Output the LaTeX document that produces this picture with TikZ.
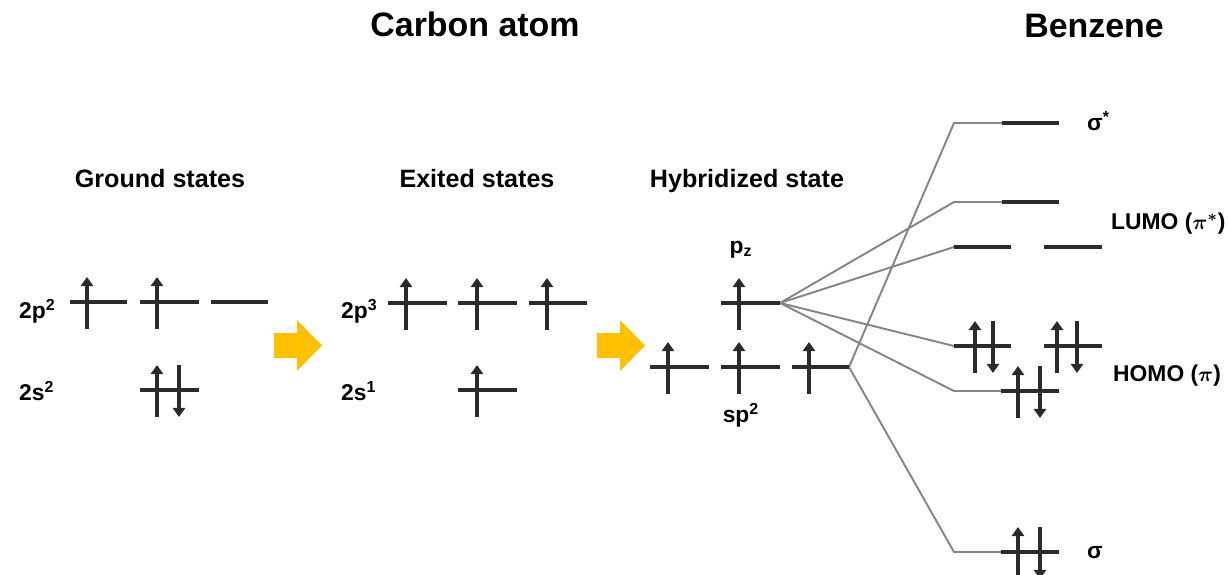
\documentclass[tikz,border=0pt]{standalone}
\usepackage{fontspec}
\setmainfont{Liberation Sans}
\usetikzlibrary{arrows.meta}

\definecolor{levelgray}{HTML}{2B2B2B}
\definecolor{linkgray}{HTML}{858585}
\definecolor{pushyellow}{HTML}{FFC000}

% one energy level: [style]{name}{x left}{x right}{y}
\newcommand{\orbital}[5][level]{%
  \coordinate (#2-l) at (#3,#5);
  \coordinate (#2-r) at (#4,#5);
  \draw[#1] (#2-l) -- (#2-r);}
% electrons: {x}{y of level}
\newcommand{\spinup}[2]{\draw[spin] (#1,#2+27) -- (#1,#2-25);}
\newcommand{\spindown}[2]{\draw[spin] (#1,#2-25) -- (#1,#2+27);}
% yellow step arrow: {x left}
\newcommand{\pusharrow}[1]{%
  \fill[push] (#1,333) -- (#1+23,333) -- (#1+23,320) -- (#1+48,345.5)
    -- (#1+23,371) -- (#1+23,358) -- (#1,358) -- cycle;}

\begin{document}
\begin{tikzpicture}[x=0.02cm, y=-0.02cm,
    level/.style={draw=levelgray, line width=1.9pt},
    heavylevel/.style={draw=levelgray, line width=2.5pt},
    spin/.style={draw=levelgray, line width=1.9pt, -{Triangle[width=7pt, length=5.2pt]}},
    link/.style={draw=linkgray, line width=1.1pt},
    push/.style={fill=pushyellow},
    title/.style={font=\fontsize{19.3}{22}\selectfont\bfseries},
    state/.style={font=\fontsize{14.3}{17}\selectfont\bfseries},
    orb/.style={font=\fontsize{13}{16}\selectfont\bfseries\boldmath}
]
\useasboundingbox (0,0) rectangle (1228,575);

% titles
\node[title, anchor=base] (carbon) at (475,36) {Carbon atom};
\node[title, anchor=base] (benzene) at (1094,37) {Benzene};
\node[state, anchor=base] (ground) at (160,187) {Ground states};
\node[state, anchor=base] (exited) at (477,187) {Exited states};
\node[state, anchor=base] (hybrid) at (747,187) {Hybridized state};

% ground states
\node[orb, anchor=base west] (g2p) at (13,318) {2p\textsuperscript{2}};
\node[orb, anchor=base west] (g2s) at (13,400) {2s\textsuperscript{2}};
\orbital{gpa}{70}{127}{302}
\orbital{gpb}{140}{199}{302}
\orbital{gpc}{211}{268}{302}
\orbital{gs}{140}{199}{390}
\spinup{87}{302}
\spinup{157}{302}
\spinup{157}{390}
\spindown{179}{390}

\pusharrow{274}

% excited states
\node[orb, anchor=base west] (e2p) at (335,318) {2p\textsuperscript{3}};
\node[orb, anchor=base west] (e2s) at (335,400) {2s\textsuperscript{1}};
\orbital{epa}{388}{447}{303}
\orbital{epb}{458}{517}{303}
\orbital{epc}{529}{587}{303}
\orbital{es}{458}{517}{390}
\spinup{406}{303}
\spinup{477}{303}
\spinup{547}{303}
\spinup{477}{390}

\pusharrow{597}

% hybridized state
\node[orb, anchor=base] (pzlabel) at (741,253) {p\textsubscript{z}};
\node[orb, anchor=base] (splabel) at (741,422) {sp\textsuperscript{2}};

% benzene corners of the correlation lines
\coordinate (ss-c) at (954,123);
\coordinate (lu-c) at (954,202);
\coordinate (ho-c) at (954,391);
\coordinate (s-c) at (954,552);
\coordinate (pz-r) at (780,303);
\coordinate (spc-r) at (849,367);
\coordinate (lua-l) at (954,247);
\coordinate (hoa-l) at (954,346);

% correlation lines
\draw[link] (spc-r) -- (ss-c) -- (1002,123);
\draw[link] (spc-r) -- (s-c) -- (1001,552);
\draw[link] (pz-r) -- (lu-c) -- (1002,202);
\draw[link] (pz-r) -- (lua-l);
\draw[link] (pz-r) -- (hoa-l);
\draw[link] (pz-r) -- (ho-c) -- (1001,391);

\orbital{pz}{721}{780}{303}
\spinup{739}{303}
\orbital[heavylevel]{spa}{650}{709}{367}
\orbital[heavylevel]{spb}{721}{780}{367}
\orbital[heavylevel]{spc}{792}{849}{367}
\spinup{668}{367}
\spinup{739}{367}
\spinup{809}{367}

% benzene levels
\orbital[heavylevel]{ss}{1002}{1059}{123}
\orbital[heavylevel]{lu}{1002}{1059}{202}
\orbital[heavylevel]{lua}{954}{1011}{247}
\orbital[heavylevel]{lub}{1044}{1102}{247}
\orbital[heavylevel]{hoa}{954}{1011}{346}
\orbital[heavylevel]{hob}{1044}{1102}{346}
\orbital[heavylevel]{ho}{1001}{1059}{391}
\orbital[heavylevel]{s}{1001}{1059}{552}
\spinup{975}{346}
\spindown{993}{346}
\spinup{1057}{346}
\spindown{1077}{346}
\spinup{1018}{391}
\spindown{1040}{391}
\spinup{1018}{552}
\spindown{1040}{552}

\node[orb, anchor=base west] (sigstar) at (1081,130) {σ\textsuperscript{*}};
\node[orb, anchor=base west] (lumo) at (1105,229) {LUMO ($\pi^{*}$)};
\node[orb, anchor=base west] (homo) at (1107,381) {HOMO ($\pi$)};
\node[orb, anchor=base west] (sigma) at (1081,558) {σ};
\end{tikzpicture}
\end{document}
